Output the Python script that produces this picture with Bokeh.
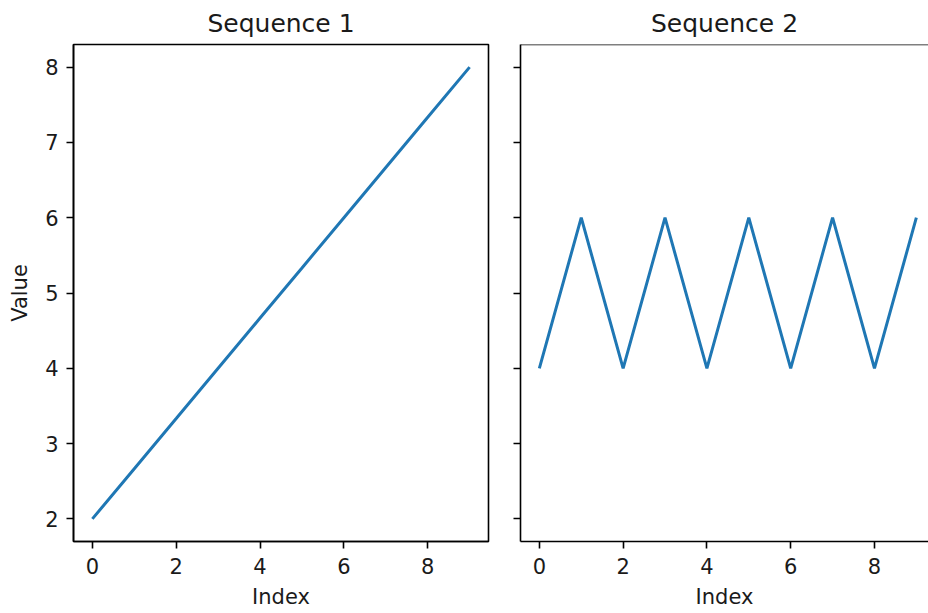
from bokeh.plotting import figure
from bokeh.models import Range1d, FixedTicker, Span
from bokeh.layouts import row
from bokeh.embed import file_html
from bokeh.resources import INLINE

# Data for the two panels
index = [0, 1, 2, 3, 4, 5, 6, 7, 8, 9]
sequence_1 = [2.0, 2.667, 3.333, 4.0, 4.667, 5.333, 6.0, 6.667, 7.333, 8.0]
sequence_2 = [4, 6, 4, 6, 4, 6, 4, 6, 4, 6]
x_ticks = [0, 2, 4, 6, 8]
y_ticks = [2, 3, 4, 5, 6, 7, 8]

LINE_COLOR = "#1f77b4"
FONT = "DejaVu Sans"
TEXT_COLOR = "#1a1a1a"
SPINE_W = 1.6

shared_y = Range1d(1.7, 8.3)


def style_axis(ax, ticks, show_labels=True):
    ax.ticker = FixedTicker(ticks=ticks)
    ax.axis_line_color = "black"
    ax.axis_line_width = SPINE_W
    ax.major_tick_line_color = "black"
    ax.major_tick_line_width = SPINE_W
    ax.major_tick_out = 7
    ax.major_tick_in = 0
    ax.minor_tick_line_color = None
    ax.major_label_text_font = FONT
    ax.major_label_text_font_size = "21px"
    ax.major_label_standoff = 8
    ax.major_label_text_color = TEXT_COLOR if show_labels else None
    ax.axis_label_text_font = FONT
    ax.axis_label_text_font_size = "21px"
    ax.axis_label_text_font_style = "normal"
    ax.axis_label_text_color = TEXT_COLOR


def style_title(p):
    p.title.align = "center"
    p.title.text_font = FONT
    p.title.text_font_size = "25px"
    p.title.text_font_style = "normal"
    p.title.text_color = TEXT_COLOR
    p.title.text_line_height = 0.8
    p.title.standoff = 13


# Left panel: Sequence 1
p1 = figure(width=504, height=613, x_range=Range1d(-0.45, 9.45), y_range=shared_y,
            title="Sequence 1", output_backend="svg", toolbar_location=None,
            min_border_left=73, min_border_right=16, min_border_top=44, min_border_bottom=72)
p1.line(index, sequence_1, line_color=LINE_COLOR, line_width=3)
style_title(p1)
p1.grid.visible = False
p1.outline_line_color = "black"
p1.outline_line_width = SPINE_W
p1.outline_line_alpha = 1
style_axis(p1.xaxis[0], x_ticks)
style_axis(p1.yaxis[0], y_ticks)
p1.xaxis[0].axis_label = "Index"
p1.yaxis[0].axis_label = "Value"
p1.yaxis[0].axis_label_standoff = 10
p1.xaxis[0].axis_label_standoff = 8
p1.xaxis[0].major_label_standoff = 9

# Right panel: Sequence 2 (shares the y range, tick labels hidden)
p2 = figure(width=424, height=613, x_range=Range1d(-0.45, 9.29), y_range=shared_y,
            title="Sequence 2", output_backend="svg", toolbar_location=None,
            min_border_left=16, min_border_right=0, min_border_top=44, min_border_bottom=72)
p2.line(index, sequence_2, line_color=LINE_COLOR, line_width=3)
style_title(p2)
p2.grid.visible = False
p2.outline_line_color = None
style_axis(p2.xaxis[0], x_ticks)
style_axis(p2.yaxis[0], y_ticks, show_labels=False)
p2.xaxis[0].axis_label = "Index"
p2.xaxis[0].axis_label_standoff = 8
p2.xaxis[0].major_label_standoff = 9

# top spine of the right panel
p2.add_layout(Span(location=shared_y.end, dimension="width",
                   line_color="black", line_width=SPINE_W))

layout = row(p1, p2)
open("out.html", "w").write(file_html(layout, INLINE))
